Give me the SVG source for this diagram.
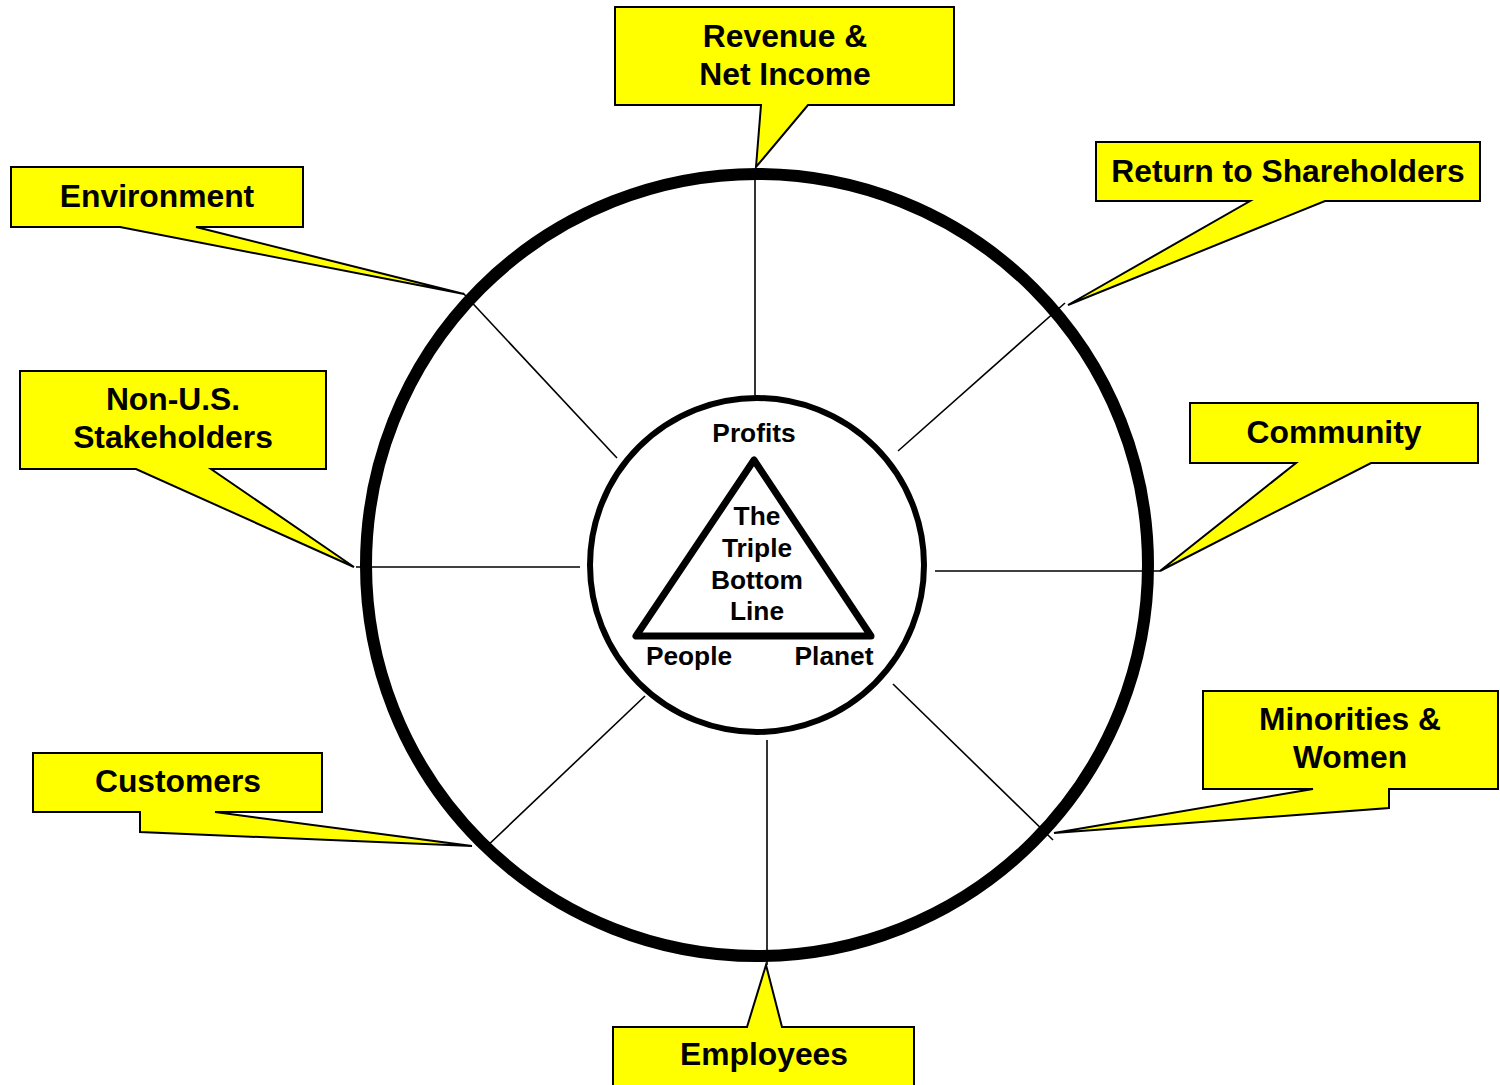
<svg xmlns="http://www.w3.org/2000/svg" width="1500" height="1085" viewBox="0 0 1500 1085">
<style>
.co{fill:#ffff00;stroke:#000;stroke-width:2;stroke-linejoin:miter}
.t{font-family:"Liberation Sans",Arial,sans-serif;font-weight:bold;font-size:31.8px;fill:#000;text-anchor:middle}
.ti{font-family:"Liberation Sans",Arial,sans-serif;font-weight:bold;font-size:26.3px;fill:#000;text-anchor:middle}
.sp{stroke:#000;stroke-width:1.6;fill:none}
</style>
<rect width="1500" height="1085" fill="#fff"/>
<g id="connectors">
<line class="sp" x1="755" y1="172" x2="755" y2="395"/>
<line class="sp" x1="898" y1="451" x2="1065" y2="303"/>
<line class="sp" x1="463" y1="293" x2="617" y2="458"/>
<line class="sp" x1="356" y1="567" x2="580" y2="567"/>
<line class="sp" x1="935" y1="571" x2="1160" y2="571"/>
<line class="sp" x1="645" y1="696" x2="484" y2="849"/>
<line class="sp" x1="893" y1="684" x2="1053" y2="840"/>
<line class="sp" x1="767" y1="740" x2="767" y2="965"/>
</g>
<g id="outer-ring">
<circle cx="757" cy="565" r="391" fill="none" stroke="#000" stroke-width="12"/>
</g>
<g id="center">
<circle cx="757" cy="565" r="167" fill="#fff" stroke="#000" stroke-width="6"/>
<polygon points="754,460 636,636 871,636" fill="none" stroke="#000" stroke-width="7" stroke-linejoin="round"/>
<text class="ti" x="754" y="442">Profits</text>
<text class="ti" x="757" y="525">The</text>
<text class="ti" x="757" y="557">Triple</text>
<text class="ti" x="757" y="589">Bottom</text>
<text class="ti" x="757" y="620">Line</text>
<text class="ti" x="689" y="665">People</text>
<text class="ti" x="834" y="665">Planet</text>
</g>
<g id="revenue">
<polygon class="co" points="615,7 954,7 954,105 808,105 756,167 761,105 615,105"/>
<text class="t" x="785" y="47">Revenue &amp;</text>
<text class="t" x="785" y="85">Net Income</text>
</g>
<g id="environment">
<polygon class="co" points="11,167 303,167 303,227 196,227 464,294 120,227 11,227"/>
<text class="t" x="157" y="207">Environment</text>
</g>
<g id="shareholders">
<polygon class="co" points="1096,142 1480,142 1480,201 1325,201 1068,305 1250,201 1096,201"/>
<text class="t" x="1288" y="182">Return to Shareholders</text>
</g>
<g id="non-us">
<polygon class="co" points="20,371 326,371 326,469 211,469 354,567 136,469 20,469"/>
<text class="t" x="173" y="410">Non-U.S.</text>
<text class="t" x="173" y="448">Stakeholders</text>
</g>
<g id="community">
<polygon class="co" points="1190,403 1478,403 1478,463 1371,463 1160,571 1296,463 1190,463"/>
<text class="t" x="1334" y="443">Community</text>
</g>
<g id="customers">
<polygon class="co" points="33,753 322,753 322,812 215,812 472,846 140,832 140,812 33,812"/>
<text class="t" x="178" y="792">Customers</text>
</g>
<g id="minorities">
<polygon class="co" points="1203,691 1498,691 1498,789 1389,789 1389,808 1054,833 1313,789 1203,789"/>
<text class="t" x="1350" y="730">Minorities &amp;</text>
<text class="t" x="1350" y="768">Women</text>
</g>
<g id="employees">
<polygon class="co" points="613,1027 747,1027 766,965 782,1027 914,1027 914,1092 613,1092"/>
<text class="t" x="764" y="1065">Employees</text>
</g>
</svg>
